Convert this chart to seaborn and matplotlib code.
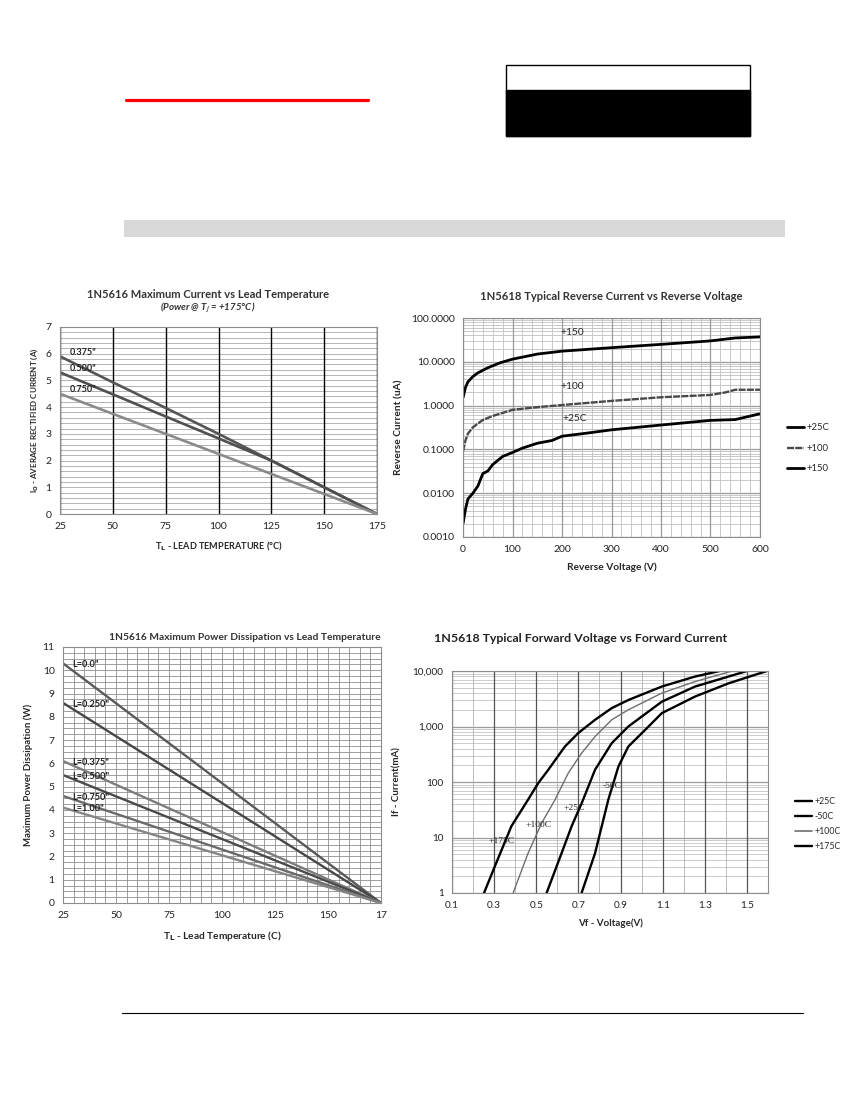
import matplotlib
matplotlib.use("Agg")
import matplotlib.pyplot as plt
import matplotlib.ticker as mticker
from matplotlib.lines import Line2D
from matplotlib.patches import Rectangle
import numpy as np
import pandas as pd
import seaborn as sns

# --- 1N5616 max current vs lead temperature ---
cur_temp = [25, 50, 75, 100, 125, 150, 175]
cur_375 = [5.9, 4.93, 3.97, 3.0, 2.0, 1.0, 0.0]
cur_500 = [5.3, 4.48, 3.65, 2.83, 2.0, 1.0, 0.0]
cur_750 = [4.5, 3.75, 3.0, 2.25, 1.5, 0.75, 0.0]
cur_labels = ['0.375"', '0.500"', '0.750"']

# --- 1N5618 reverse current vs reverse voltage ---
rv_150 = [0, 5, 10, 20, 30, 50, 75, 100, 150, 200, 300, 400, 500, 550, 600]
ir_150 = [1.5, 2.6, 3.5, 4.6, 5.6, 7.3, 9.5, 11.5, 15, 17.5, 21, 25, 30, 35, 37]
rv_100 = [0, 5, 10, 20, 40, 60, 100, 150, 200, 300, 400, 500, 530, 550, 600]
ir_100 = [0.09, 0.16, 0.23, 0.32, 0.47, 0.58, 0.8, 0.92, 1.03, 1.28, 1.55, 1.75, 2.0, 2.3, 2.3]
rv_25 = [0, 5, 10, 20, 30, 40, 50, 60, 80, 100, 120, 150, 180, 200, 250, 300, 400, 500, 550, 600]
ir_25 = [0.002, 0.0043, 0.0074, 0.0100, 0.0145, 0.028, 0.032, 0.045, 0.069, 0.085,
         0.107, 0.138, 0.16, 0.2, 0.235, 0.28, 0.36, 0.46, 0.48, 0.65]

# --- 1N5616 max power dissipation vs lead temperature ---
pwr_temp = [25, 175]
pwr_series = {
    'L=0.0"': [10.3, 0.0],
    'L=0.250"': [8.6, 0.0],
    'L=0.375"': [6.1, 0.0],
    'L=0.500"': [5.5, 0.0],
    'L=0.750"': [4.6, 0.0],
    'L=1.00"': [4.1, 0.0],
}
pwr_colors = ['#5a5a5a', '#474747', '#7c7c7c', '#4a4a4a', '#6a6a6a', '#858585']

# --- 1N5618 forward voltage vs forward current ---
vf_175 = [0.252, 0.303, 0.382, 0.461, 0.509, 0.557, 0.636, 0.699, 0.779, 0.858, 0.937, 1.096, 1.254, 1.37]
if_175 = [1, 3, 16, 48, 95, 166, 436, 760, 1320, 2140, 3000, 5250, 7950, 10000]
vf_100 = [0.39, 0.461, 0.525, 0.589, 0.652, 0.715, 0.779, 0.858, 0.937, 1.096, 1.254, 1.43]
if_100 = [1, 5.2, 18, 48, 145, 330, 660, 1320, 2000, 4000, 6450, 10000]
vf_25 = [0.549, 0.62, 0.668, 0.715, 0.779, 0.858, 0.937, 1.096, 1.254, 1.413, 1.5]
if_25 = [1, 5.2, 16, 41, 166, 500, 1000, 2800, 5250, 7950, 10000]
vf_m50 = [0.715, 0.779, 0.842, 0.89, 0.937, 1.017, 1.096, 1.254, 1.413, 1.595]
if_m50 = [1, 5.2, 48, 190, 436, 870, 1740, 3470, 6000, 10000]

sns.set_style("white")
plt.rcParams['font.family'] = ['Lato', 'DejaVu Sans']
plt.rcParams['mathtext.fontset'] = 'dejavusans'

fig = plt.figure(figsize=(8.5, 11), dpi=100)
W, H = 850.0, 1100.0


def place(x0, y0, x1, y1):
    return fig.add_axes([x0 / W, 1 - y1 / H, (x1 - x0) / W, (y1 - y0) / H])


def style_axes(ax, tick_size):
    for s in ax.spines.values():
        s.set_color('#8c8c8c')
        s.set_linewidth(0.8)
    ax.tick_params(axis='both', which='major', labelsize=tick_size, length=3,
                   color='#8c8c8c', pad=3, labelcolor='#222')
    ax.tick_params(axis='both', which='minor', length=0)
    ax.set_axisbelow(True)
    # vertical grid on top of the horizontal one
    ax.xaxis.set_zorder(0.6)


# ---------- header decorations ----------
fig.add_artist(Line2D([126 / W, 368 / W], [1 - 100 / H] * 2, color='red', lw=2.3))
fig.add_artist(Rectangle((506 / W, 1 - 136 / H), 244 / W, 71 / H, facecolor='white',
                         edgecolor='black', lw=1.0))
fig.add_artist(Rectangle((506 / W, 1 - 136 / H), 244 / W, 46 / H, facecolor='black',
                         edgecolor='black', lw=1.0))
fig.add_artist(Rectangle((124 / W, 1 - 237 / H), 661 / W, 17 / H, facecolor='#d9d9d9',
                         edgecolor='none'))
fig.add_artist(Line2D([122 / W, 803 / W], [1 - 1013 / H] * 2, color='black', lw=0.8))

# ---------- chart 1 ----------
ax1 = place(60, 327, 377, 514)
df1 = pd.DataFrame({'T': cur_temp * 3,
                    'I': cur_375 + cur_500 + cur_750,
                    'lead': [cur_labels[0]] * 7 + [cur_labels[1]] * 7 + [cur_labels[2]] * 7})
sns.lineplot(data=df1, x='T', y='I', hue='lead', ax=ax1, legend=False,
             palette=['#555555', '#4f4f4f', '#8a8a8a'], lw=1.9)
ax1.set_xlim(25, 175)
ax1.set_ylim(0, 7)
ax1.set_xticks(range(25, 176, 25))
ax1.set_yticks(range(0, 8))
ax1.yaxis.set_minor_locator(mticker.MultipleLocator(0.2))
ax1.grid(axis='y', which='both', color='#a8a8a8', lw=0.6)
ax1.grid(axis='x', which='major', color='black', lw=1.0)
style_axes(ax1, 7.5)
for lab, yv in zip(cur_labels, [cur_375[0], cur_500[0], cur_750[0]]):
    ax1.text(29.5, yv - 0.02, lab, fontsize=6.5, fontweight='bold', va='bottom', color='#222')
ax1.set_xlabel(r'T$_\mathbf{L}$ - LEAD TEMPERATURE (°C)', fontsize=6.6, fontweight='bold', labelpad=6)
ax1.set_ylabel(r'I$_\mathbf{O}$ - AVERAGE RECTIFIED CURRENT (A)', fontsize=5.8, fontweight='bold', labelpad=4)
fig.text(208 / W, 1 - 294 / H, '1N5616 Maximum Current vs Lead Temperature',
         fontsize=8.0, fontweight='bold', ha='center', va='center', color='#333')
fig.text(208 / W, 1 - 308 / H, r'(Power @ T$_\mathit{J}$ = +175°C)', fontsize=7.0,
         fontweight='bold', style='italic', ha='center', va='center', color='#333')

# ---------- chart 2 ----------
ax2 = place(463, 318, 760, 537)
df2 = pd.DataFrame({'V': rv_25 + rv_100 + rv_150,
                    'I': ir_25 + ir_100 + ir_150,
                    'temp': ['+25C'] * len(rv_25) + ['+100'] * len(rv_100) + ['+150'] * len(rv_150)})
sns.lineplot(data=df2, x='V', y='I', hue='temp', style='temp', ax=ax2, legend=False,
             palette=['black', '#4a4a4a', 'black'],
             dashes=[(1, 0), (3, 0.5), (1, 0)], size='temp', sizes=[2.0, 1.7, 2.0])
ax2.set_yscale('log')
ax2.set_xlim(0, 600)
ax2.set_ylim(0.001, 100)
ax2.set_xticks(range(0, 601, 100))
ax2.xaxis.set_minor_locator(mticker.MultipleLocator(20))
ax2.yaxis.set_minor_locator(mticker.LogLocator(base=10, subs=np.arange(2, 10)))
ax2.yaxis.set_major_formatter(mticker.FuncFormatter(lambda v, p: f'{v:.4f}'))
ax2.grid(which='major', color='#9a9a9a', lw=0.9)
ax2.grid(which='minor', color='#c0c0c0', lw=0.6)
style_axes(ax2, 7.5)
ax2.text(221, 37, '+150', fontsize=7.3, ha='center', va='bottom')
ax2.text(221, 2.2, '+100', fontsize=7.3, ha='center', va='bottom')
ax2.text(225, 0.4, '+25C', fontsize=7.3, ha='center', va='bottom')
ax2.set_xlabel('Reverse Voltage (V)', fontsize=7.3, fontweight='bold', labelpad=6)
ax2.set_ylabel('Reverse Current (uA)', fontsize=7.3, fontweight='bold', labelpad=5)
fig.text(611 / W, 1 - 297 / H, '1N5618 Typical Reverse Current vs Reverse Voltage',
         fontsize=8.1, fontweight='bold', ha='center', va='center', color='#333')
h2 = [Line2D([], [], color='black', lw=2.0),
      Line2D([], [], color='#4a4a4a', lw=1.7, dashes=(3, 0.5)),
      Line2D([], [], color='black', lw=2.0)]
ax2.legend(h2, ['+25C', '+100', '+150'], loc='upper left', frameon=False,
           bbox_to_anchor=(778 / W, 1 - 415 / H), bbox_transform=fig.transFigure,
           fontsize=6.8, handlelength=1.9, handletextpad=0.2, labelspacing=1.2)

# ---------- chart 3 ----------
ax3 = place(63, 647, 381, 903)
names3 = list(pwr_series.keys())
df3 = pd.DataFrame({'T': pwr_temp * len(names3),
                    'P': [v for k in names3 for v in pwr_series[k]],
                    'L': [k for k in names3 for _ in pwr_temp]})
sns.lineplot(data=df3, x='T', y='P', hue='L', ax=ax3, legend=False,
             palette=pwr_colors, lw=1.7)
ax3.set_xlim(25, 175)
ax3.set_ylim(0, 11)
ax3.set_xticks(range(25, 176, 25))
ax3.set_xticklabels(['25', '50', '75', '100', '125', '150', '17'])
ax3.set_yticks(range(0, 12))
ax3.xaxis.set_minor_locator(mticker.MultipleLocator(5))
ax3.yaxis.set_minor_locator(mticker.MultipleLocator(0.25))
ax3.grid(which='both', color='#8f8f8f', lw=0.6)
style_axes(ax3, 7.5)
for k in names3:
    ax3.text(29.4, pwr_series[k][0] - 0.05, k, fontsize=6.6, fontweight='bold', va='center', color='#222')
ax3.set_xlabel(r'T$_\mathbf{L}$ - Lead Temperature (C)', fontsize=7.3, fontweight='bold', labelpad=6)
ax3.set_ylabel('Maximum Power Dissipation (W)', fontsize=6.9, fontweight='bold', labelpad=7)
fig.text(381 / W, 1 - 637 / H, '1N5616 Maximum Power Dissipation vs Lead Temperature',
         fontsize=7.4, fontweight='bold', ha='right', va='center', color='#333')

# ---------- chart 4 ----------
ax4 = place(452, 671, 768, 893)
df4 = pd.DataFrame({'V': vf_175 + vf_100 + vf_25 + vf_m50,
                    'I': if_175 + if_100 + if_25 + if_m50,
                    'temp': ['+175C'] * len(vf_175) + ['+100C'] * len(vf_100)
                            + ['+25C'] * len(vf_25) + ['-50C'] * len(vf_m50)})
sns.lineplot(data=df4, x='V', y='I', hue='temp', size='temp', ax=ax4, legend=False,
             palette=['black', '#6e6e6e', 'black', 'black'], sizes=[1.7, 1.0, 1.7, 1.7])
ax4.set_yscale('log')
ax4.set_xlim(0.1, 1.6)
ax4.set_ylim(1, 10000)
ax4.set_xticks(np.arange(0.1, 1.55, 0.2))
ax4.xaxis.set_major_formatter(mticker.FormatStrFormatter('%.1f'))
ax4.xaxis.set_minor_locator(mticker.MultipleLocator(0.1))
ax4.yaxis.set_minor_locator(mticker.LogLocator(base=10, subs=np.arange(2, 10)))
ax4.yaxis.set_major_formatter(mticker.FuncFormatter(lambda v, p: f'{int(round(v)):,}'))
ax4.grid(axis='x', which='major', color='#555555', lw=0.9)
ax4.grid(axis='x', which='minor', color='#b0b0b0', lw=0.6)
ax4.grid(axis='y', which='major', color='#9a9a9a', lw=0.9)
ax4.grid(axis='y', which='minor', color='#c4c4c4', lw=0.6)
style_axes(ax4, 7.2)
serif = ['Liberation Serif', 'DejaVu Serif']
ax4.text(0.335, 8.5, '+175C', fontsize=6.8, family=serif, ha='center', va='center')
ax4.text(0.51, 17, '+100C', fontsize=6.8, family=serif, ha='center', va='center')
ax4.text(0.68, 34, '+25C', fontsize=6.8, family=serif, ha='center', va='center')
ax4.text(0.86, 85, '-50C', fontsize=6.8, family=serif, ha='center', va='center')
ax4.set_xlabel('Vf - Voltage(V)', fontsize=7.0, fontweight='bold', labelpad=6)
ax4.set_ylabel('If - Current(mA)', fontsize=7.0, fontweight='bold', labelpad=8)
fig.text(434 / W, 1 - 639 / H, '1N5618 Typical Forward Voltage vs Forward Current',
         fontsize=8.9, fontweight='bold', ha='left', va='center', color='#222')
h4 = [Line2D([], [], color='black', lw=1.7),
      Line2D([], [], color='black', lw=1.7),
      Line2D([], [], color='#6e6e6e', lw=1.2),
      Line2D([], [], color='black', lw=1.7)]
ax4.legend(h4, ['+25C', '-50C', '+100C', '+175C'], loc='upper left', frameon=False,
           bbox_to_anchor=(787 / W, 1 - 789 / H), bbox_transform=fig.transFigure,
           fontsize=6.3, handlelength=2.0, handletextpad=0.2, labelspacing=0.7)

fig.savefig('out.png', dpi=100)
